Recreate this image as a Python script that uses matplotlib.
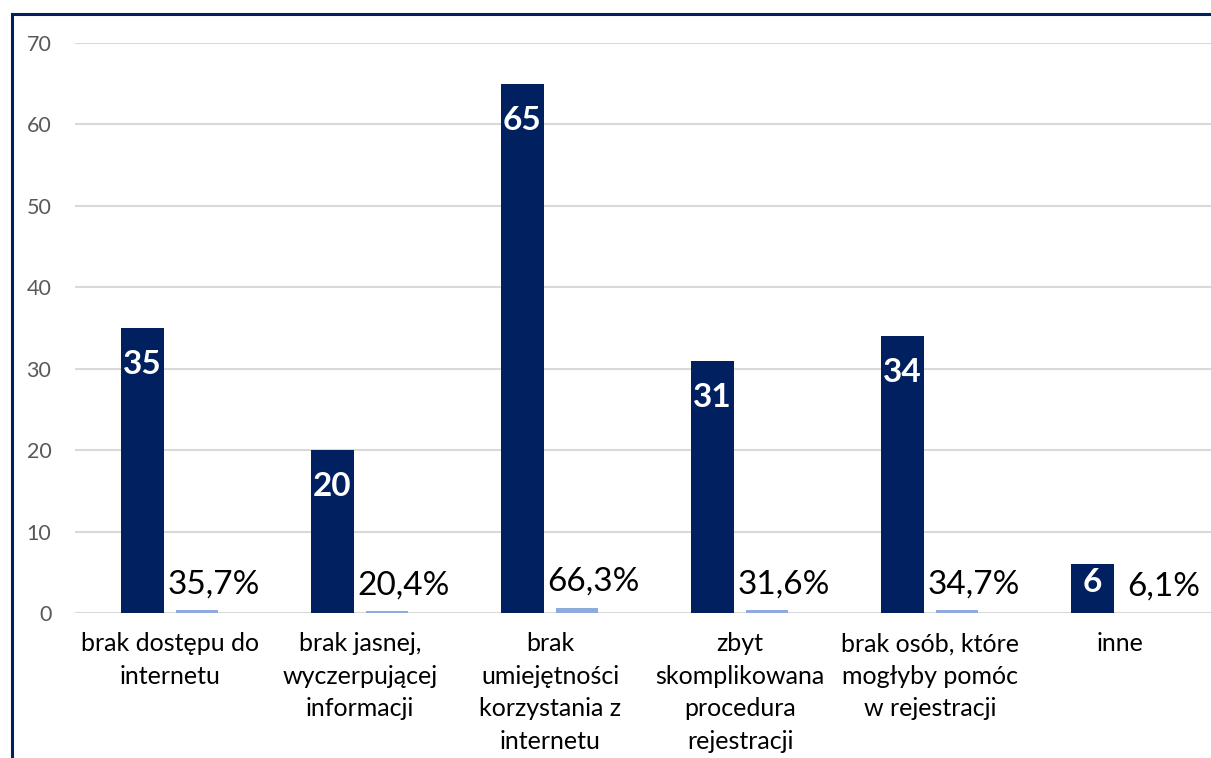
import numpy as np
import matplotlib.pyplot as plt
from matplotlib.patches import Rectangle

categories = ['brak dostępu do\ninternetu',
              'brak jasnej,\nwyczerpującej\ninformacji',
              'brak\numiejętności\nkorzystania z\ninternetu',
              'zbyt\nskomplikowana\nprocedura\nrejestracji',
              'brak osób, które\nmogłyby pomóc\nw rejestracji',
              'inne']
counts = [35, 20, 65, 31, 34, 6]
shares = [0.357, 0.204, 0.663, 0.316, 0.347, 0.061]
share_labels = ['35,7%', '20,4%', '66,3%', '31,6%', '34,7%', '6,1%']

navy = '#002060'
light = '#8FAADC'

plt.rcParams['font.family'] = ['Lato', 'DejaVu Sans']

fig = plt.figure(figsize=(12.11, 7.58), dpi=100)
ax = fig.add_axes([75 / 1211, 1 - 613 / 758, 1 - 75 / 1211, (613 - 43) / 758])

x = np.arange(len(categories))
w = 0.226
ax.bar(x - 0.147, counts, width=w, color=navy, zorder=3)
ax.bar(x + 0.142, shares, width=w, color=light, zorder=3)

# etykiety liczebności - białe, wewnątrz słupka
for xi, v in zip(x, counts):
    yl = max(v - 4.5, 0.63 * v)
    ax.text(xi - 0.147, yl, str(v), color='white', fontsize=24,
            fontweight='bold', ha='center', va='center', zorder=4)

# etykiety procentowe nad jasnymi słupkami
for xi, v, lab in zip(x, shares, share_labels):
    ax.annotate(lab, (xi + 0.142, v), xytext=(12, 12), textcoords='offset points',
                ha='center', va='baseline', fontsize=24, color='black', zorder=4)

ax.set_ylim(0, 70)
ax.set_yticks(np.arange(0, 71, 10))
ax.set_xlim(-0.5, 5.5 - 4 / 190)
ax.set_xticks(x)
ax.set_xticklabels(categories, fontsize=18, color='black', linespacing=1.5)
ax.tick_params(axis='x', length=0, pad=14)
ax.tick_params(axis='y', length=0, pad=17, labelsize=15.5, labelcolor='#595959')
ax.grid(axis='y', color='#D9D9D9', lw=1.5, zorder=0)
for s in ax.spines.values():
    s.set_visible(False)

# ramka wykresu (ucięta z prawej i u dołu)
fig.patches.append(Rectangle((12 / 1211, -0.1), 1.2, 1 - 14 / 758 + 0.1,
                             transform=fig.transFigure, fill=False,
                             edgecolor=navy, lw=2.2, clip_on=False))

fig.savefig('out.png', dpi=100)
